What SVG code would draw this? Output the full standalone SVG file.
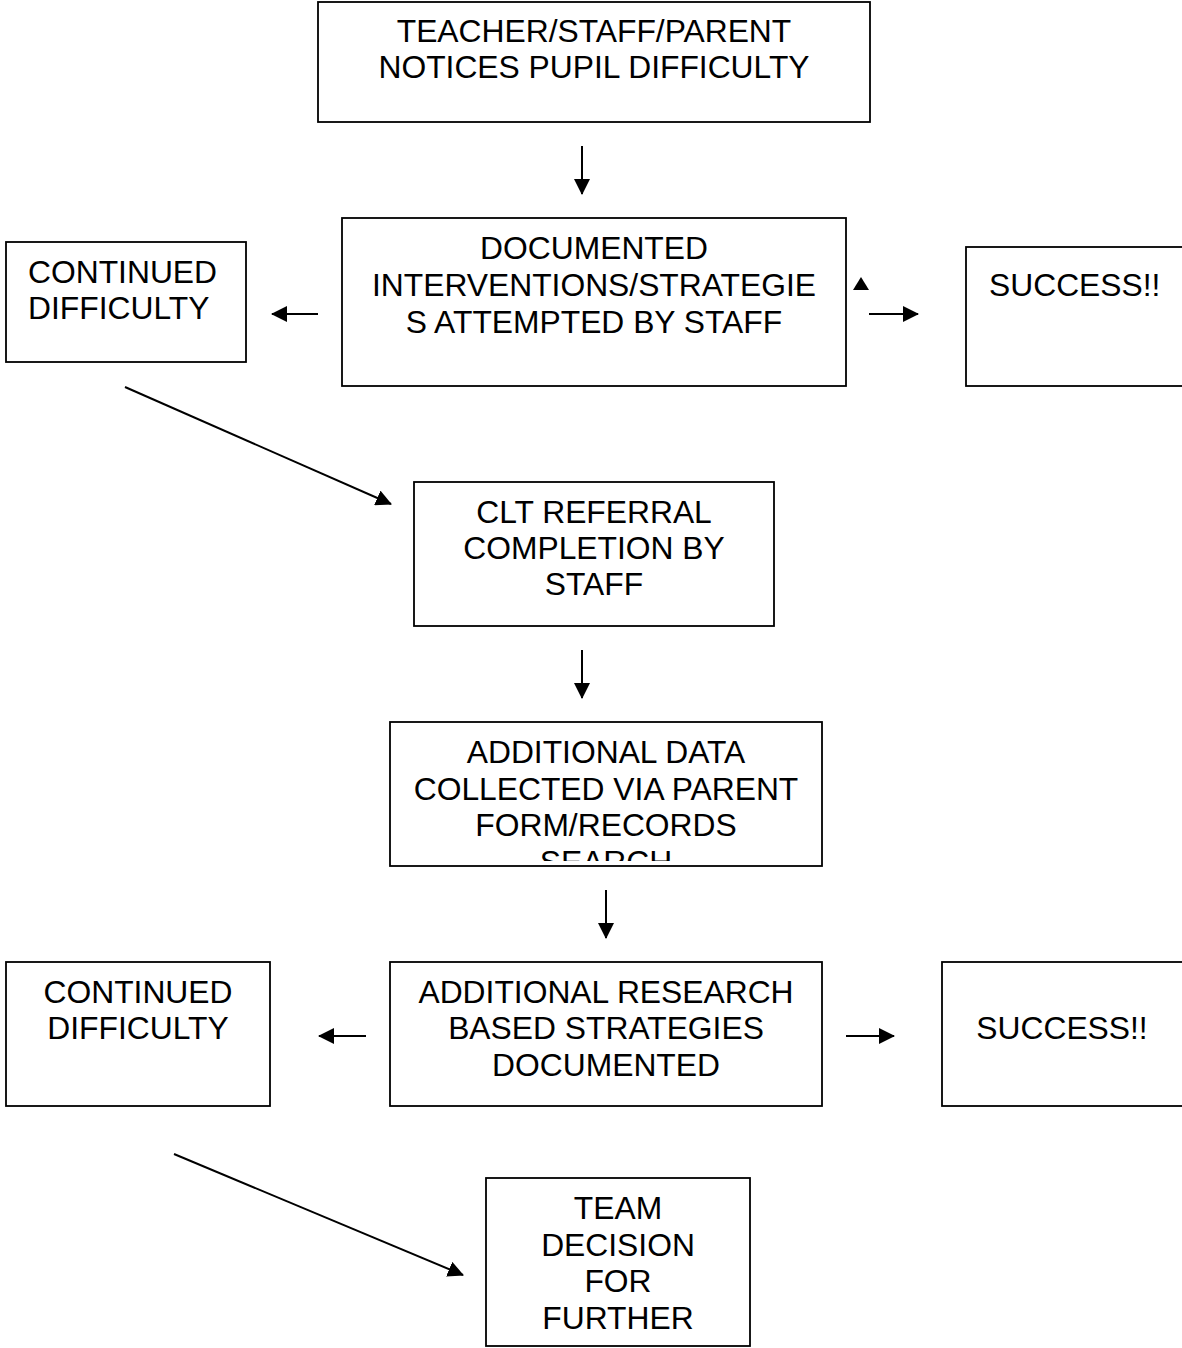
<svg xmlns="http://www.w3.org/2000/svg" width="1182" height="1348" viewBox="0 0 1182 1348">
<style>
.box{fill:#fff;stroke:#000;stroke-width:1.8}
.t{font-family:"Liberation Sans",Arial,sans-serif;font-size:31.8px;fill:#000}
.c{text-anchor:middle}
.ln{stroke:#000;stroke-width:2;fill:none;marker-end:url(#ah)}
</style>
<defs>
<marker id="ah" markerUnits="userSpaceOnUse" markerWidth="16" markerHeight="16" viewBox="0 0 16 16" refX="15" refY="8" orient="auto">
<path d="M0,0 L16,8 L0,16 Z" fill="#000"/>
</marker>
<clipPath id="clipData"><rect x="391" y="723" width="430" height="138"/></clipPath>
</defs>
<rect width="1182" height="1348" fill="#fff"/>

<g id="connectors">
<line class="ln" x1="582" y1="146" x2="582" y2="194"/>
<line class="ln" x1="318" y1="314" x2="272" y2="314"/>
<line class="ln" x1="869" y1="314" x2="918" y2="314"/>
<polygon points="861,277 853,290 869,290" fill="#000"/>
<line class="ln" x1="125" y1="387" x2="391" y2="504"/>
<line class="ln" x1="582" y1="650" x2="582" y2="698"/>
<line class="ln" x1="606" y1="890" x2="606" y2="938"/>
<line class="ln" x1="366" y1="1036" x2="319" y2="1036"/>
<line class="ln" x1="846" y1="1036" x2="894" y2="1036"/>
<line class="ln" x1="174" y1="1154" x2="463" y2="1275"/>
</g>

<g id="n-notice">
<rect class="box" x="318" y="2" width="552" height="120"/>
<text class="t c" x="594" y="42">TEACHER/STAFF/PARENT</text>
<text class="t c" x="594" y="78">NOTICES PUPIL DIFFICULTY</text>
</g>

<g id="n-interventions">
<rect class="box" x="342" y="218" width="504" height="168"/>
<text class="t c" x="594" y="259">DOCUMENTED</text>
<text class="t c" x="594" y="296">INTERVENTIONS/STRATEGIE</text>
<text class="t c" x="594" y="333">S ATTEMPTED BY STAFF</text>
</g>

<g id="n-continued1">
<rect class="box" x="6" y="242" width="240" height="120"/>
<text class="t" x="28" y="283">CONTINUED</text>
<text class="t" x="28" y="319">DIFFICULTY</text>
</g>

<g id="n-success1">
<rect class="box" x="966" y="247" width="230" height="139"/>
<text class="t" x="989" y="296">SUCCESS!!</text>
</g>

<g id="n-clt">
<rect class="box" x="414" y="482" width="360" height="144"/>
<text class="t c" x="594" y="523">CLT REFERRAL</text>
<text class="t c" x="594" y="559">COMPLETION BY</text>
<text class="t c" x="594" y="595">STAFF</text>
</g>

<g id="n-data">
<rect class="box" x="390" y="722" width="432" height="144"/>
<g clip-path="url(#clipData)">
<text class="t c" x="606" y="763">ADDITIONAL DATA</text>
<text class="t c" x="606" y="800">COLLECTED VIA PARENT</text>
<text class="t c" x="606" y="836">FORM/RECORDS</text>
<text class="t c" x="606" y="873">SEARCH</text>
</g>
</g>

<g id="n-research">
<rect class="box" x="390" y="962" width="432" height="144"/>
<text class="t c" x="606" y="1003">ADDITIONAL RESEARCH</text>
<text class="t c" x="606" y="1039">BASED STRATEGIES</text>
<text class="t c" x="606" y="1076">DOCUMENTED</text>
</g>

<g id="n-continued2">
<rect class="box" x="6" y="962" width="264" height="144"/>
<text class="t c" x="138" y="1003">CONTINUED</text>
<text class="t c" x="138" y="1039">DIFFICULTY</text>
</g>

<g id="n-success2">
<rect class="box" x="942" y="962" width="250" height="144"/>
<text class="t c" x="1062" y="1039">SUCCESS!!</text>
</g>

<g id="n-team">
<rect class="box" x="486" y="1178" width="264" height="168"/>
<text class="t c" x="618" y="1219">TEAM</text>
<text class="t c" x="618" y="1256">DECISION</text>
<text class="t c" x="618" y="1292">FOR</text>
<text class="t c" x="618" y="1329">FURTHER</text>
</g>
</svg>
